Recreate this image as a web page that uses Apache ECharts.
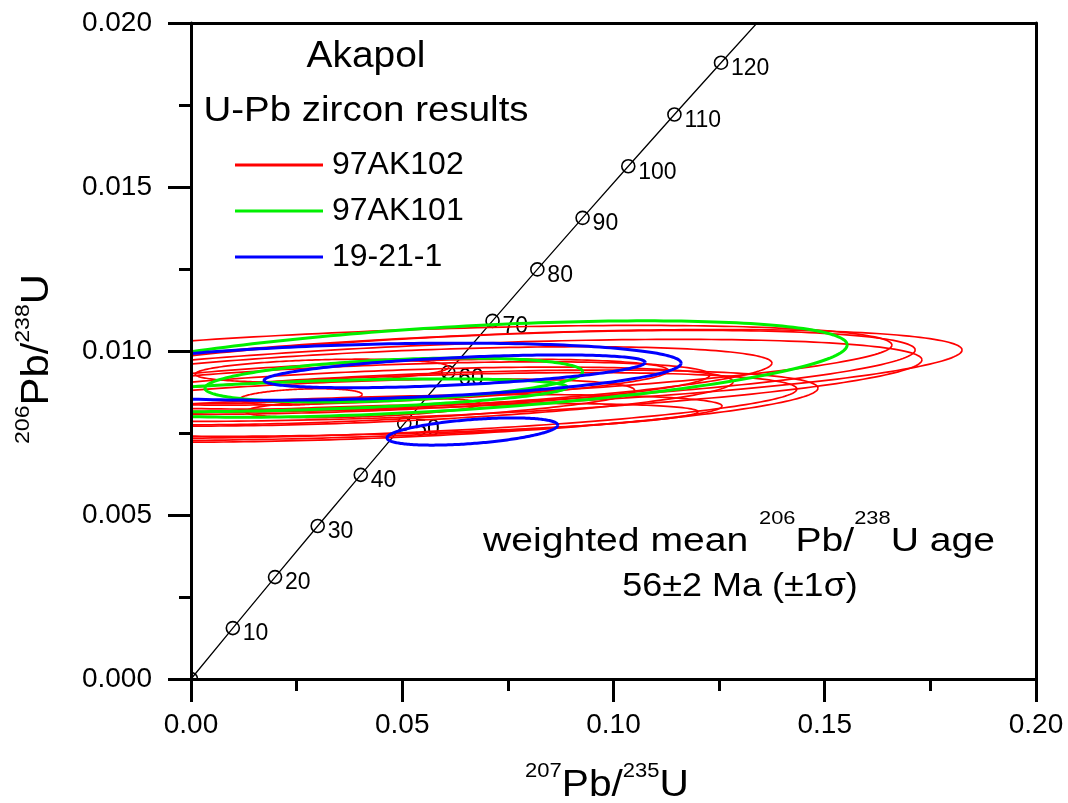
<!DOCTYPE html>
<html>
<head>
<meta charset="utf-8">
<title>Akapol U-Pb zircon results</title>
<script src="https://cdn.jsdelivr.net/npm/echarts@6.0.0/dist/echarts.min.js"></script>
<style>
  html, body { margin: 0; padding: 0; background: #ffffff; }
  #chart { width: 1068px; height: 803px; }
</style>
</head>
<body>
<div id="chart"></div>
<script>
// Decay constants (per year) used to place the concordia curve
const LAMBDA_238 = 1.55125e-10;
const LAMBDA_235 = 9.8485e-10;

// Concordia age marks (Ma) and the age where the drawn curve stops
const concordiaAges = [0, 10, 20, 30, 40, 50, 60, 70, 80, 90, 100, 110, 120];
const concordiaEndAge = 130;

// Axis ticks
const xTicks = [0, 0.05, 0.10, 0.15, 0.20];
const yTicks = [0, 0.005, 0.010, 0.015, 0.020];

// Error ellipses, one row per zircon analysis:
// [207Pb/235U, 207Pb/235U half-width, 206Pb/238U, 206Pb/238U half-height, error correlation]
const sample97AK102 = [
  [0.0675, 0.115, 0.009405, 0.00125, 0.5],
  [0.0664, 0.105, 0.00943, 0.0012, 0.5],
  [0.0580, 0.115, 0.009105, 0.00125, 0.5],
  [0.0459, 0.120, 0.00958, 0.0012, 0.5],
  [0.0475, 0.090, 0.00913, 0.0010, 0.5],
  [0.0484, 0.100, 0.00832, 0.0011, 0.5],
  [0.0434, 0.100, 0.00834, 0.0010, 0.5],
  [0.0433, 0.085, 0.00861, 0.0009, 0.5],
  [0.0357, 0.090, 0.00797, 0.0007, 0.5],
  [0.0428, 0.080, 0.00887, 0.0008, 0.5],
  [0.0310, 0.030, 0.00940, 0.00035, 0.3],
  [0.0260, 0.0145, 0.00860, 0.00025, 0.3],
  [0.0406, 0.0278, 0.00827, 0.0003, 0.4],
  [0.0430, 0.070, 0.00905, 0.0007, 0.5],
  [0.0350, 0.070, 0.00845, 0.0007, 0.5],
  [0.0450, 0.075, 0.00790, 0.0005, 0.5]
];
const sample97AK101 = [
  [0.0600, 0.0953, 0.00945, 0.00147, 0.5],
  [0.0480, 0.0447, 0.009115, 0.00067, 0.37],
  [0.0290, 0.0600, 0.00865, 0.0005, 0.5]
];
const sample19211 = [
  [0.0410, 0.0750, 0.00937, 0.00087, 0.3],
  [0.0624, 0.0451, 0.00938, 0.0005, 0.55],
  [0.0666, 0.0202, 0.007545, 0.000415, 0.47]
];

const FONT = "'Liberation Sans', Arial, Helvetica, sans-serif";

function concordiaPoint(ageMa) {
  const t = ageMa * 1e6;
  return [Math.exp(LAMBDA_235 * t) - 1, Math.exp(LAMBDA_238 * t) - 1];
}

const concordiaLine = concordiaAges.concat([concordiaEndAge]).map(concordiaPoint);
const concordiaMarks = concordiaAges.map(a => concordiaPoint(a).concat([a]));

function gridClip(params) {
  const cs = params.coordSys;
  return { type: 'rect', shape: { x: cs.x, y: cs.y, width: cs.width, height: cs.height } };
}

// Outline of one correlated error ellipse, mapped through the cartesian axes
function renderEllipse(lineWidth) {
  return function (params, api) {
    const cx = api.value(0), a = api.value(1), cy = api.value(2), b = api.value(3), rho = api.value(4);
    const k = Math.sqrt(1 - rho * rho);
    const pts = [];
    const n = 240;
    for (let i = 0; i <= n; i++) {
      const th = (i / n) * Math.PI * 2;
      const c = Math.cos(th), s = Math.sin(th);
      pts.push(api.coord([cx + a * c, cy + b * (rho * c + k * s)]));
    }
    return {
      type: 'polyline',
      shape: { points: pts },
      clipPath: gridClip(params),
      style: { stroke: api.visual('color'), fill: null, lineWidth: lineWidth }
    };
  };
}

function ellipseSeries(name, data, color, lineWidth, z) {
  return {
    name: name,
    type: 'custom',
    coordinateSystem: 'cartesian2d',
    dimensions: ['r207_235', 'dx', 'r206_238', 'dy', 'rho'],
    encode: { x: 0, y: 2 },
    data: data,
    clip: true,
    silent: true,
    z: z,
    itemStyle: { color: color },
    renderItem: renderEllipse(lineWidth)
  };
}

function supText(parts) {
  return parts.map(p => (p[0] === '^' ? '{s|' + p.slice(1) + '}' : '{m|' + p + '}')).join('');
}

const chart = echarts.init(document.getElementById('chart'), null, { renderer: 'canvas' });

const axisLineStyle = { color: '#000', width: 3 };

chart.setOption({
  backgroundColor: '#ffffff',
  animation: false,
  grid: { left: 191, right: 32, top: 23, bottom: 124, containLabel: false, outerBoundsMode: 'none' },
  legend: {
    show: true,
    orient: 'vertical',
    left: 235,
    top: 149,
    padding: 0,
    itemWidth: 88,
    itemHeight: 3,
    itemGap: 14,
    selectedMode: false,
    icon: 'rect',
    textStyle: { fontSize: 32, fontFamily: FONT, color: '#000', lineHeight: 32, padding: [0, 0, 0, 4] },
    data: ['97AK102', '97AK101', '19-21-1']
  },
  xAxis: [
    {
      type: 'value', position: 'bottom', min: xTicks[0], max: xTicks[xTicks.length - 1],
      interval: xTicks[1] - xTicks[0], z: 5,
      axisLine: { show: true, onZero: false, lineStyle: axisLineStyle },
      axisTick: { show: true, inside: false, length: 23, lineStyle: { color: '#000', width: 3 } },
      minorTick: { show: true, splitNumber: 2, length: 12, lineStyle: { color: '#000', width: 3 } },
      splitLine: { show: false }, minorSplitLine: { show: false },
      axisLabel: { fontSize: 28, fontFamily: FONT, color: '#000', margin: 32, formatter: v => v.toFixed(2) }
    },
    {
      type: 'value', position: 'top', min: xTicks[0], max: xTicks[xTicks.length - 1],
      interval: xTicks[1] - xTicks[0], z: 5,
      axisLine: { show: true, onZero: false, lineStyle: axisLineStyle },
      axisTick: { show: false }, axisLabel: { show: false }, splitLine: { show: false }
    }
  ],
  yAxis: [
    {
      type: 'value', position: 'left', min: yTicks[0], max: yTicks[yTicks.length - 1],
      interval: yTicks[1] - yTicks[0], z: 5,
      axisLine: { show: true, onZero: false, lineStyle: axisLineStyle },
      axisTick: { show: true, inside: false, length: 23, lineStyle: { color: '#000', width: 3 } },
      minorTick: { show: true, splitNumber: 2, length: 12, lineStyle: { color: '#000', width: 3 } },
      splitLine: { show: false }, minorSplitLine: { show: false },
      axisLabel: { fontSize: 28, fontFamily: FONT, color: '#000', margin: 39, formatter: v => v.toFixed(3) }
    },
    {
      type: 'value', position: 'right', min: yTicks[0], max: yTicks[yTicks.length - 1],
      interval: yTicks[1] - yTicks[0], z: 5,
      axisLine: { show: true, onZero: false, lineStyle: axisLineStyle },
      axisTick: { show: false }, axisLabel: { show: false }, splitLine: { show: false }
    }
  ],
  series: [
    {
      name: 'concordia',
      type: 'line',
      data: concordiaLine,
      showSymbol: false,
      clip: true,
      silent: true,
      z: 1,
      lineStyle: { color: '#000', width: 1.3 }
    },
    {
      name: 'concordia ages',
      type: 'custom',
      coordinateSystem: 'cartesian2d',
      encode: { x: 0, y: 1 },
      data: concordiaMarks,
      clip: true,
      silent: true,
      z: 1,
      renderItem: function (params, api) {
        const p = api.coord([api.value(0), api.value(1)]);
        const age = api.value(2);
        const children = [{
          type: 'circle',
          shape: { cx: p[0], cy: p[1], r: 6.5 },
          style: { fill: '#fff', stroke: '#000', lineWidth: 1.6 }
        }];
        if (age > 0) {
          children.push({
            type: 'text', x: p[0] + 10, y: p[1] + 6,
            style: { text: String(age), fontSize: 23, fontFamily: FONT, fill: '#000', align: 'left', verticalAlign: 'middle' }
          });
        }
        return { type: 'group', clipPath: gridClip(params), children: children };
      }
    },
    ellipseSeries('97AK102', sample97AK102, '#ff0000', 1.7, 2),
    ellipseSeries('97AK101', sample97AK101, '#00f000', 3, 3),
    ellipseSeries('19-21-1', sample19211, '#0000ff', 3, 4)
  ],
  graphic: [
    {
      type: 'text', x: 366, y: 57, scaleX: 1.08,
      style: { text: 'Akapol', fontSize: 36, fontFamily: FONT, fill: '#000', align: 'center', verticalAlign: 'middle' }
    },
    {
      type: 'text', x: 366, y: 111, scaleX: 1.1,
      style: { text: 'U-Pb zircon results', fontSize: 35, fontFamily: FONT, fill: '#000', align: 'center', verticalAlign: 'middle' }
    },
    {
      type: 'text', x: 483, y: 542, scaleX: 1.15,
      style: {
        text: supText(['weighted mean ', '^206', 'Pb/', '^238', 'U age']),
        align: 'left', verticalAlign: 'middle',
        rich: {
          m: { fontSize: 34, fontFamily: FONT, fill: '#000', lineHeight: 66 },
          s: { fontSize: 19, fontFamily: FONT, fill: '#000', lineHeight: 22, verticalAlign: 'top' }
        }
      }
    },
    {
      type: 'text', x: 740, y: 587, scaleX: 1.09,
      style: { text: '56±2 Ma (±1σ)', fontSize: 33, fontFamily: FONT, fill: '#000', align: 'center', verticalAlign: 'middle' }
    },
    {
      type: 'text', x: 607, y: 786, scaleX: 1.1,
      style: {
        text: supText(['^207', 'Pb/', '^235', 'U']),
        align: 'center', verticalAlign: 'middle',
        rich: {
          m: { fontSize: 37, fontFamily: FONT, fill: '#000', lineHeight: 50 },
          s: { fontSize: 20, fontFamily: FONT, fill: '#000', lineHeight: 20, verticalAlign: 'top' }
        }
      }
    },
    {
      type: 'text', x: 38, y: 359, rotation: Math.PI / 2, scaleX: 1.1,
      style: {
        text: supText(['^206', 'Pb/', '^238', 'U']),
        align: 'center', verticalAlign: 'middle',
        rich: {
          m: { fontSize: 38, fontFamily: FONT, fill: '#000', lineHeight: 50 },
          s: { fontSize: 21, fontFamily: FONT, fill: '#000', lineHeight: 24, verticalAlign: 'top' }
        }
      }
    }
  ]
});
</script>
</body>
</html>
